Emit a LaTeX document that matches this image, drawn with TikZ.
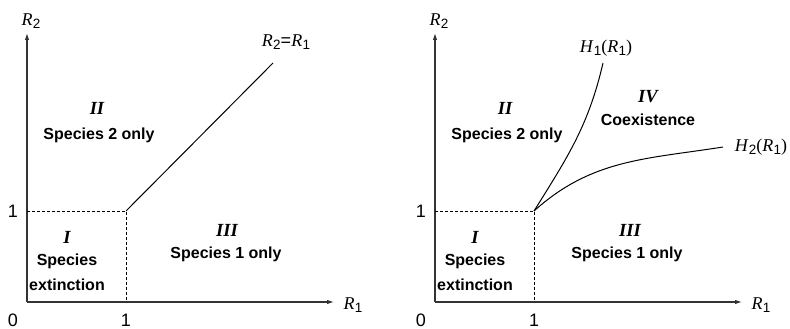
\documentclass[tikz,border=0pt]{standalone}
\usepackage{fontspec}
\setmainfont{Liberation Serif}
\setsansfont{Liberation Sans}
\usetikzlibrary{arrows.meta}
\newcommand{\subs}[1]{\raisebox{-0.35ex}{\fontsize{13.5}{14}\selectfont\sffamily #1}}
\newcommand{\Rv}[1]{\textit{R}\kern0.3pt\subs{#1}}
\newcommand{\Hv}[1]{\textit{H}\kern0.3pt\subs{#1}}

\begin{document}
\begin{tikzpicture}[x=1pt,y=1pt,>={Latex[length=7pt,width=4.5pt]},
  axis/.style={->,line width=1.1pt,black!80},
  guide/.style={dash pattern=on 3pt off 2pt,line width=0.8pt},
  curve/.style={line width=1pt},
  region/.style={font=\sffamily\bfseries\fontsize{16}{20}\selectfont,align=center,inner sep=0pt},
  roman/.style={font=\bfseries\itshape\fontsize{18.5}{20}\selectfont,inner sep=0pt},
  num/.style={font=\sffamily\fontsize{18}{20}\selectfont,inner sep=0pt},
  lbl/.style={font=\fontsize{18}{20}\selectfont,inner sep=0pt}]
  \useasboundingbox (0,0) rectangle (790,329);
  % axes, guides and ticks for both panels
  \foreach \ox in {27,435} {
    \begin{scope}[shift={(\ox,27)}]
      \coordinate (o) at (0,0);
      \coordinate (xend) at (307,0);
      \coordinate (yend) at (0,269);
      \coordinate (c) at (99,91);
      \draw[axis] (o) -- (xend);
      \draw[axis] (o) -- (yend);
      \draw[guide] (o |- c) -- (c) -- (c |- o);
      \node[lbl] (xlbl) at (326,-3) {\Rv{1}};
      \node[lbl] (ylbl) at (4,281) {\Rv{2}};
      \node[num] (zero) at (-14,-18) {0};
      \node[num] (oney) at (-14,91) {1};
      \node[num] (onex) at (99,-18) {1};
      \node[roman] (rI) at (40,65) {I};
      \node[region] (rIt) at (40,30) {Species\\[5pt]extinction};
      \node[roman] (rII) at (70,194) {II};
      \node[region] (rIIt) at (72,167) {Species 2 only};
    \end{scope}
  }
  % left panel
  \begin{scope}[shift={(27,27)}]
    \coordinate (c) at (99,91);
    \coordinate (dend) at (246,239);
    \draw[curve] (c) -- (dend);
    \node[lbl] (diag) at (259,260) {\Rv{2}{\sffamily=}\Rv{1}};
    \node[roman] (rIII) at (200,72) {III};
    \node[region] (rIIIt) at (199,48) {Species 1 only};
  \end{scope}
  % right panel
  \begin{scope}[shift={(435,27)}]
    \coordinate (c) at (99,91);
    \coordinate (h1end) at (168,239);
    \coordinate (h2end) at (288,155);
    \draw[curve] (c) to[out=58,in=-103] (h1end);
    \draw[curve] (c) to[out=42,in=189] (h2end);
    \node[lbl] (h1lbl) at (171,254) {\Hv{1}(\Rv{1})};
    \node[lbl] (h2lbl) at (326,155) {\Hv{2}(\Rv{1})};
    \node[roman] (rIII) at (195,72) {III};
    \node[region] (rIIIt) at (192,48) {Species 1 only};
    \node[roman] (rIV) at (213,205) {IV};
    \node[region] (rIVt) at (213,182) {Coexistence};
  \end{scope}
\end{tikzpicture}
\end{document}
